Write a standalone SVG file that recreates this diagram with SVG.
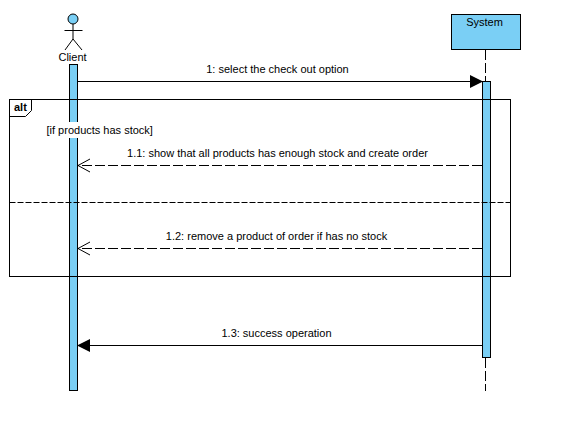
<svg xmlns="http://www.w3.org/2000/svg" width="563" height="432" viewBox="0 0 563 432">
<style>
text{font-family:"Liberation Sans",Arial,sans-serif;font-size:11px;fill:#000}
.l{fill:none;stroke:#000;stroke-width:1}
.d{stroke-dasharray:10 3}
.b{fill:#7acff5;stroke:#000;stroke-width:1}
.m{text-anchor:middle}
</style>
<defs>
<marker id="open" markerUnits="userSpaceOnUse" markerWidth="14" markerHeight="16" refX="1" refY="7" orient="auto" overflow="visible"><path d="M13 0.5L1 7L13 13.500" fill="none" stroke="#000" stroke-width="1" transform="rotate(180 1 7)"/></marker>
</defs>
<rect width="563" height="432" fill="#fff"/>
<g id="lifelines">
<path class="l d" d="M485.500 50V81M485.500 358V391"/>
</g>
<g id="client-activation"><rect class="b" x="69.500" y="64.500" width="8" height="326"/></g>
<g id="system-activation"><rect class="b" x="482.500" y="81.500" width="8" height="276"/></g>
<g id="client">
<circle class="b" cx="73" cy="19" r="5"/>
<path class="l" d="M73 24V39M64.500 30.500H82.500M65 50L73 39L82 50"/>
<text class="m" x="72.500" y="61">Client</text>
</g>
<g id="system">
<rect class="b" x="451.500" y="14.500" width="69" height="35"/>
<text class="m" x="484.500" y="26">System</text>
</g>
<g id="alt-frame">
<rect class="l" x="9.500" y="99.500" width="501" height="177"/>
<path class="l" d="M9.500 116.500H25.500L31.500 110.500V99.500"/>
<text x="14" y="111" style="font-weight:bold">alt</text>
<path class="l" d="M9.500 202.500H510.500" stroke-dasharray="6 2"/>
<rect x="46" y="122" width="107" height="16" fill="#fff"/>
<text x="46.500" y="134">[if products has stock]</text>
</g>
<g id="connectors">
<path class="l" d="M78 81.500H482"/>
<path d="M470 75L483 81.500L470 88Z" fill="#000"/>
<path class="l d" d="M482 165.500H78" marker-end="url(#open)"/>
<path class="l d" d="M482 248.500H78" marker-end="url(#open)"/>
<path class="l" d="M482 345.500H90"/>
<path d="M90 339L77 345.500L90 352Z" fill="#000"/>
</g>
<g id="labels">
<text class="m" x="277.500" y="73">1: select the check out option</text>
<text class="m" x="277.500" y="157">1.1: show that all products has enough stock and create order</text>
<text class="m" x="276.500" y="240">1.2: remove a product of order if has no stock</text>
<text class="m" x="276.500" y="337">1.3: success operation</text>
</g>
</svg>
